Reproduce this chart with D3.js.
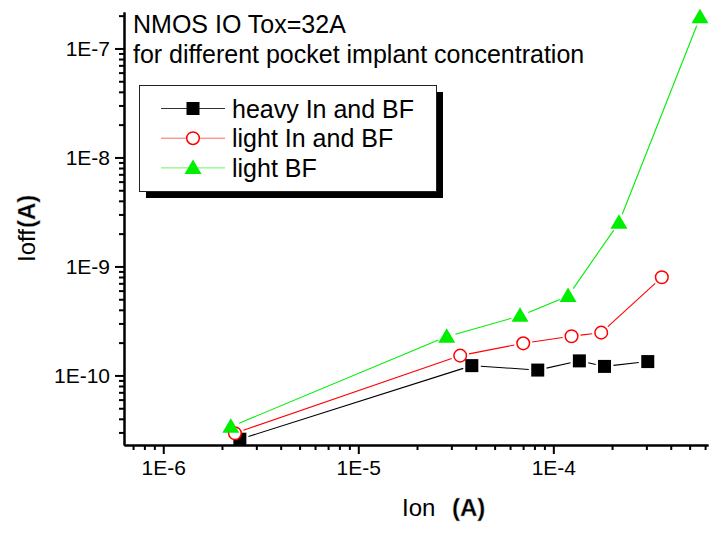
<!DOCTYPE html>
<html>
<head>
<meta charset="utf-8">
<script src="https://cdn.jsdelivr.net/npm/d3@7"></script>
<style>
  html, body { margin: 0; padding: 0; background: #fff; }
  svg { display: block; }
  text { font-family: Arial, "Liberation Sans", sans-serif; }
</style>
</head>
<body>
<svg id="chart" width="716" height="533"></svg>
<script>
// Ion / Ioff of NMOS IO devices (Tox = 32 A) for three pocket implant splits
const seriesNames = ["heavy In and BF", "light In and BF", "light BF"];
const ionHeavy  = [2.47e-6, 3.82e-5, 8.32e-5, 1.36e-4, 1.83e-4, 3.05e-4];
const ioffHeavy = [2.6e-11, 1.23e-10, 1.12e-10, 1.36e-10, 1.21e-10, 1.34e-10];
const ionLight  = [2.33e-6, 3.33e-5, 7.01e-5, 1.24e-4, 1.76e-4, 3.6e-4];
const ioffLight = [2.95e-11, 1.52e-10, 1.97e-10, 2.29e-10, 2.47e-10, 7.96e-10];
const ionBF     = [2.22e-6, 2.84e-5, 6.75e-5, 1.19e-4, 2.17e-4, 5.65e-4];
const ioffBF    = [3.39e-11, 2.27e-10, 3.52e-10, 5.36e-10, 2.52e-9, 1.93e-7];

const xMajor = [1e-6, 1e-5, 1e-4];
const xMajorLabels = ["1E-6", "1E-5", "1E-4"];
const yMajor = [1e-10, 1e-9, 1e-8, 1e-7];
const yMajorLabels = ["1E-10", "1E-9", "1E-8", "1E-7"];
const titleLines = ["NMOS IO Tox=32A", "for different pocket implant concentration"];

const xDomain = [6.29e-7, 6.21e-4];
const yDomain = [2.30e-11, 2.16e-7];

const svg = d3.select("#chart");
const x = d3.scaleLog().domain(xDomain).range([124, 708]);
const y = d3.scaleLog().domain(yDomain).range([445, 12]);

const series = [
  { name: seriesNames[0], xs: ionHeavy, ys: ioffHeavy, color: "#000000", shape: "square" },
  { name: seriesNames[1], xs: ionLight, ys: ioffLight, color: "#ff0000", shape: "circle" },
  { name: seriesNames[2], xs: ionBF, ys: ioffBF, color: "#00ee00", shape: "triangle" }
];

function drawMarker(g, shape, color, cx, cy) {
  if (shape === "square") {
    g.append("rect").attr("x", cx - 6.5).attr("y", cy - 6.5)
      .attr("width", 13).attr("height", 13).attr("fill", color);
  } else if (shape === "circle") {
    g.append("circle").attr("cx", cx).attr("cy", cy).attr("r", 6.3)
      .attr("fill", "#fff").attr("stroke", color).attr("stroke-width", 1.5);
  } else {
    g.append("path")
      .attr("d", `M${cx},${cy - 8.5}L${cx + 8.5},${cy + 6}L${cx - 8.5},${cy + 6}Z`)
      .attr("fill", color);
  }
}

// minor ticks (2..9 of each decade) inside the domain
function minorTicks(domain) {
  const out = [];
  for (let e = -12; e <= -2; e++) {
    for (let m = 2; m <= 9; m++) {
      const v = m * Math.pow(10, e);
      if (v >= domain[0] && v <= domain[1]) out.push(v);
    }
  }
  return out;
}

// data: segments with a gap around every marker, then the markers
const gap = 9;
const dataG = svg.append("g");
series.forEach(s => {
  const pts = s.xs.map((v, i) => [x(v), y(s.ys[i])]);
  for (let i = 0; i < pts.length - 1; i++) {
    const [x0, y0] = pts[i], [x1, y1] = pts[i + 1];
    const len = Math.hypot(x1 - x0, y1 - y0);
    if (len <= 2 * gap) continue;
    const ux = (x1 - x0) / len, uy = (y1 - y0) / len;
    dataG.append("line")
      .attr("x1", x0 + ux * gap).attr("y1", y0 + uy * gap)
      .attr("x2", x1 - ux * gap).attr("y2", y1 - uy * gap)
      .attr("stroke", s.color).attr("stroke-width", 1.1);
  }
  pts.forEach(p => drawMarker(dataG, s.shape, s.color, p[0], p[1]));
});

// axes
function styleAxis(g) {
  g.selectAll(".domain").attr("stroke", "#000").attr("stroke-width", 2);
  g.selectAll(".tick line").attr("stroke", "#000").attr("stroke-width", 2);
  g.selectAll("text").attr("font-size", 21).attr("fill", "#000")
    .attr("font-family", "Arial, 'Liberation Sans', sans-serif");
}

const xMinor = d3.axisBottom(x).tickValues(minorTicks(xDomain)).tickSize(5).tickFormat("").tickSizeOuter(0);
const xMaj = d3.axisBottom(x).tickValues(xMajor).tickSize(9).tickPadding(6)
  .tickFormat((d, i) => xMajorLabels[i]).tickSizeOuter(0);
svg.append("g").attr("transform", "translate(0,445)").call(xMinor).call(styleAxis);
svg.append("g").attr("transform", "translate(0,445)").call(xMaj).call(styleAxis);

const yMinor = d3.axisLeft(y).tickValues(minorTicks(yDomain)).tickSize(5).tickFormat("").tickSizeOuter(0);
const yMaj = d3.axisLeft(y).tickValues(yMajor).tickSize(9).tickPadding(5)
  .tickFormat((d, i) => yMajorLabels[i]).tickSizeOuter(0);
svg.append("g").attr("transform", "translate(124,0)").call(yMinor).call(styleAxis);
svg.append("g").attr("transform", "translate(124,0)").call(yMaj).call(styleAxis);

// title
titleLines.forEach((t, i) => {
  svg.append("text").attr("x", 133).attr("y", 33 + i * 30)
    .attr("font-size", 25).attr("fill", "#000").text(t);
});

// legend with drop shadow
const lg = svg.append("g");
lg.append("rect").attr("x", 146).attr("y", 92).attr("width", 297).attr("height", 106).attr("fill", "#000");
lg.append("rect").attr("x", 139.5).attr("y", 85.5).attr("width", 297).attr("height", 106)
  .attr("fill", "#fff").attr("stroke", "#222").attr("stroke-width", 1);
series.forEach((s, i) => {
  const ry = 108.5 + i * 29.7;
  lg.append("line").attr("x1", 161).attr("x2", 225).attr("y1", ry).attr("y2", ry)
    .attr("stroke", s.color).attr("stroke-width", 1).attr("stroke-opacity", s.shape === "square" ? 0.8 : 0.6);
  drawMarker(lg, s.shape, s.color, 193, ry);
  lg.append("text").attr("x", 232).attr("y", ry + 9).attr("font-size", 25)
    .attr("fill", "#000").text(s.name);
});

// axis titles; the unit is set in a heavy condensed face
function unitText(g, xPos, yPos) {
  g.append("text").attr("x", xPos).attr("y", yPos)
    .attr("font-size", 24).attr("font-weight", "bold").attr("fill", "#000")
    .attr("stroke", "#bbb").attr("stroke-width", 0.4)
    .attr("font-family", "'Liberation Sans Narrow', 'DejaVu Sans Condensed', sans-serif")
    .text("(A)");
}

const xt = svg.append("g");
xt.append("text").attr("x", 402).attr("y", 516).attr("font-size", 24).attr("fill", "#000").text("Ion");
unitText(xt, 452, 516);

const yt = svg.append("g").attr("transform", "translate(35,262) rotate(-90)");
yt.append("text").attr("x", 0).attr("y", 0).attr("font-size", 24).attr("fill", "#000").text("Ioff");
unitText(yt, 34, 0);
</script>
</body>
</html>
